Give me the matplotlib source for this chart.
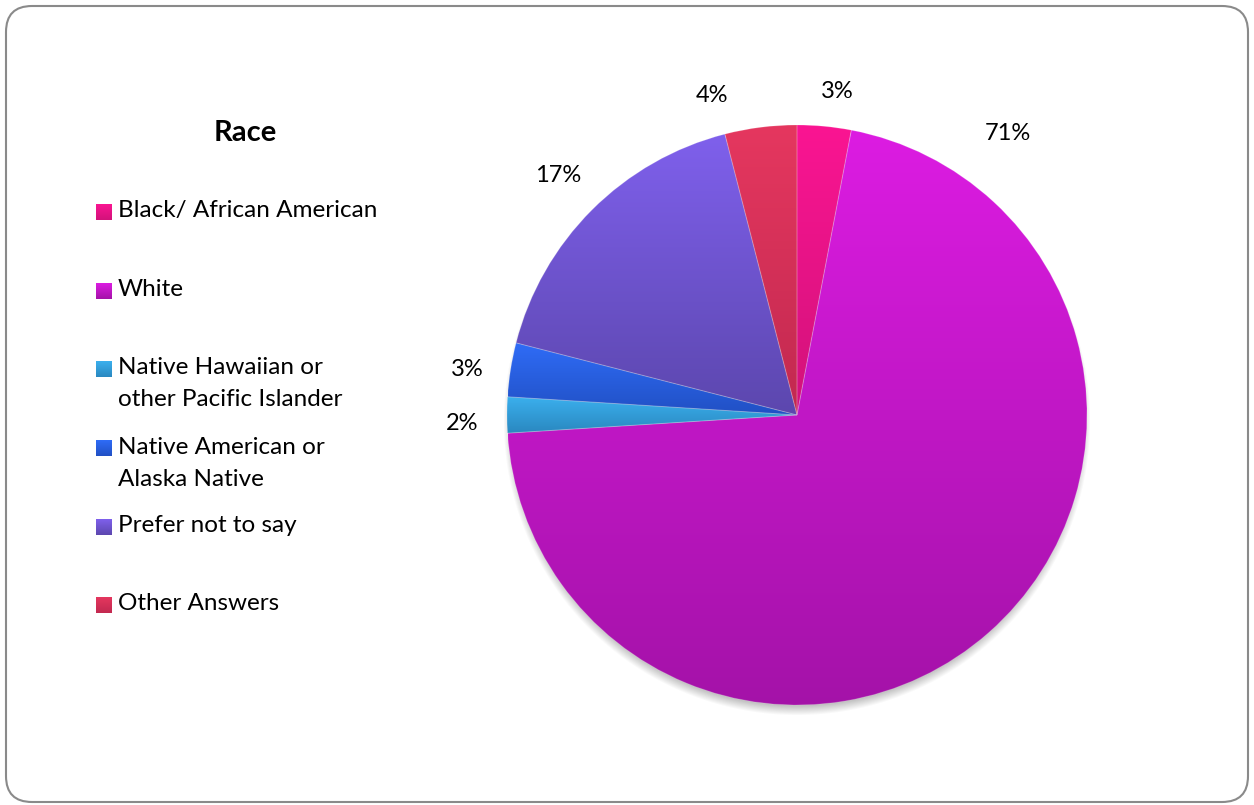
import matplotlib
matplotlib.use("Agg")
import matplotlib.pyplot as plt
from matplotlib.patches import FancyBboxPatch
from matplotlib.colors import to_rgb
import numpy as np

W, H = 1254, 805

categories = ["Black/ African American", "White",
              "Native Hawaiian or\nother Pacific Islander",
              "Native American or\nAlaska Native", "Prefer not to say",
              "Other Answers"]
values = [3, 71, 2, 3, 17, 4]
pct_labels = ["3%", "71%", "2%", "3%", "17%", "4%"]

# top / bottom colours of each slice's vertical gradient
top_colors = ["#fa1592", "#dc1ce2", "#3bb0ee", "#2f6cf7", "#7f60ec", "#e5375f"]
bot_colors = ["#d2127a", "#a412a8", "#2a88c0", "#2150c4", "#5c47ae", "#c22950"]

# where the percentage labels sit (pixel coords, y from top)
label_pos = [(837, 91), (1008, 133), (462, 423), (467, 369), (558, 176), (712, 96)]

plt.rcParams['font.family'] = ['Lato', 'DejaVu Sans']


def py(y):
    return H - y


def gradient(c_top, c_bot, n=128):
    a, b = np.array(to_rgb(c_top)), np.array(to_rgb(c_bot))
    t = np.linspace(0, 1, n)[:, None]
    return (a * (1 - t) + b * t)[:, None, :]


fig = plt.figure(figsize=(W / 100, H / 100), dpi=100)
ax = fig.add_axes([0, 0, 1, 1])

cx, cy, R = 797, py(415), 290

# soft drop shadow under the pie
sx, sy = np.meshgrid(np.arange(cx - R - 30, cx + R + 30), np.arange(cy - R - 40, cy + R + 30))
d = np.hypot(sx - cx, sy - (cy - 7))
alpha = np.clip((R + 4 - d) / 10, 0, 1) * 0.45
shadow = np.zeros(d.shape + (4,))
shadow[..., :3] = 0.45
shadow[..., 3] = alpha
ax.imshow(shadow, extent=(sx.min(), sx.max(), sy.min(), sy.max()), origin='lower',
          zorder=1, interpolation='bilinear')

wedges, _ = ax.pie(values, startangle=90, counterclock=False, center=(cx, cy), radius=R,
                   wedgeprops=dict(edgecolor=(1, 1, 1, 0.18), linewidth=0.7, zorder=3))

for w, ct, cb in zip(wedges, top_colors, bot_colors):
    v = w.get_path().vertices
    x0, x1 = v[:, 0].min(), v[:, 0].max()
    y0, y1 = v[:, 1].min(), v[:, 1].max()
    w.set_facecolor('none')
    im = ax.imshow(gradient(ct, cb), extent=(x0, x1, y0, y1), aspect='auto',
                   origin='upper', zorder=2, interpolation='bilinear')
    im.set_clip_path(w)

for (lx, ly), txt in zip(label_pos, pct_labels):
    ax.text(lx, py(ly), txt, ha='center', va='center', fontsize=17, color='black')

# legend
ax.text(245, py(133), "Race", ha='center', va='center', fontsize=21, fontweight='bold')
row_y = [211, 290, 368, 447, 526, 604]
for y, name, ct, cb in zip(row_y, categories, top_colors, bot_colors):
    ax.imshow(gradient(ct, cb), extent=(96, 112, py(y + 9), py(y - 7)), aspect='auto',
              origin='upper', zorder=2)
    for i, line in enumerate(name.split('\n')):
        ax.text(118, py(y + 32 * i), line, ha='left', va='center', fontsize=17.5)

# rounded frame
frame = FancyBboxPatch((6 + 26, 3 + 26), W - 12 - 52, H - 9 - 52,
                       boxstyle="round,pad=26", facecolor='none',
                       edgecolor='#8a8a8a', linewidth=1.5, zorder=5)
ax.add_patch(frame)

ax.set_xlim(0, W)
ax.set_ylim(0, H)
ax.set_aspect('equal')
ax.axis('off')

fig.savefig("out.png", dpi=100, facecolor='white')
